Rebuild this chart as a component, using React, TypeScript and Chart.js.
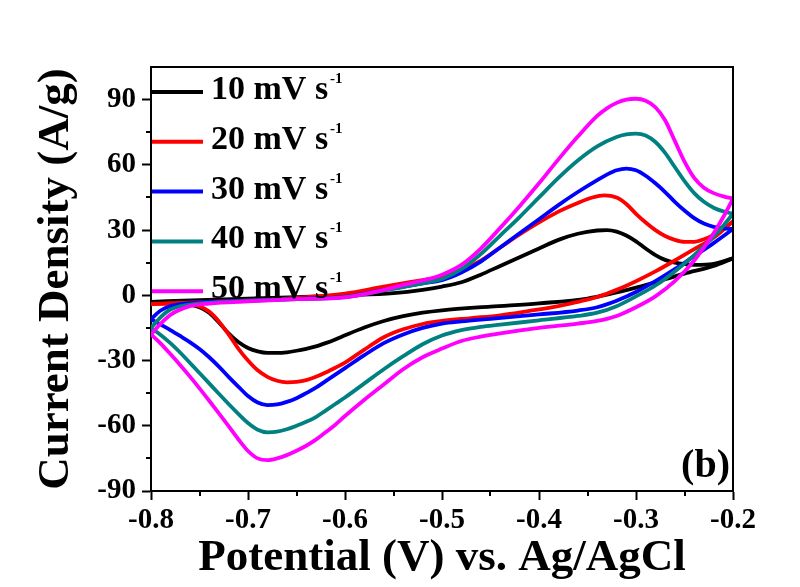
import React, { useEffect, useRef } from "react";
import { Chart, registerables } from "chart.js";

Chart.register(...registerables);

const FONT = "'Liberation Serif', 'Times New Roman', serif";

const scanRates = [10, 20, 30, 40, 50];
const seriesColors = ["#000000", "#FF0000", "#0000FF", "#008080", "#FF00FF"];
const xTicks = [-0.8, -0.7, -0.6, -0.5, -0.4, -0.3, -0.2];
const yTicks = [-90, -60, -30, 0, 30, 60, 90];
const xMinorTicks = [-0.75, -0.65, -0.55, -0.45, -0.35, -0.25];
const yMinorTicks = [-75, -45, -15, 15, 45, 75];

// [potential (V), current density (A/g)] — anodic (forward) sweep, -0.8 → -0.2
const anodic10: [number, number][] = [
  [-0.8, -3], [-0.75, -2.2], [-0.7, -1.5], [-0.65, -0.8], [-0.6, 0], [-0.55, 1], [-0.52, 2.5],
  [-0.5, 4], [-0.48, 6], [-0.46, 9.5], [-0.44, 13.5], [-0.42, 17.5], [-0.4, 21.5], [-0.38, 25.5],
  [-0.36, 28.3], [-0.34, 29.8], [-0.33, 30], [-0.32, 29.3], [-0.31, 27.5], [-0.3, 24.8], [-0.29, 21.5],
  [-0.28, 18.5], [-0.27, 16.3], [-0.26, 15], [-0.25, 14.3], [-0.24, 14], [-0.22, 14.5], [-0.2, 17],
];
// cathodic (reverse) sweep, listed from -0.8 up to the -0.2 vertex
const cathodic10: [number, number][] = [
  [-0.8, -3], [-0.78, -3.3], [-0.76, -4.3], [-0.75, -5.5], [-0.74, -8], [-0.73, -12.5], [-0.72, -17.5],
  [-0.71, -21.5], [-0.7, -24.2], [-0.69, -25.8], [-0.68, -26.5], [-0.67, -26.5], [-0.66, -26.2],
  [-0.65, -25.5], [-0.64, -24.6], [-0.63, -23.5], [-0.62, -22], [-0.61, -20.3], [-0.6, -18.4],
  [-0.58, -14.8], [-0.56, -11.8], [-0.54, -9.6], [-0.52, -8], [-0.5, -6.9], [-0.45, -5.2], [-0.4, -3.7],
  [-0.35, -1.5], [-0.3, 3.5], [-0.25, 10], [-0.22, 13.5], [-0.2, 17],
];

const anodic20: [number, number][] = [
  [-0.8, -4], [-0.75, -3.2], [-0.7, -2.3], [-0.65, -1.2], [-0.6, 0.8], [-0.56, 4], [-0.52, 7],
  [-0.5, 8.5], [-0.48, 11.5], [-0.46, 16], [-0.44, 22], [-0.42, 28], [-0.4, 33.5], [-0.38, 38.5],
  [-0.36, 42.5], [-0.345, 45], [-0.333, 46], [-0.32, 45], [-0.31, 42], [-0.3, 37.5], [-0.29, 33.5],
  [-0.28, 30], [-0.27, 27.3], [-0.26, 25.5], [-0.25, 24.6], [-0.24, 24.6], [-0.23, 25.8], [-0.22, 27.8],
  [-0.21, 30.5], [-0.2, 34],
];
const cathodic20: [number, number][] = [
  [-0.8, -4], [-0.78, -3.8], [-0.76, -4.2], [-0.75, -5], [-0.74, -7.5], [-0.73, -12], [-0.72, -18],
  [-0.71, -24.5], [-0.7, -30], [-0.69, -34.5], [-0.68, -37.5], [-0.67, -39.3], [-0.66, -40], [-0.65, -39.8],
  [-0.64, -39], [-0.63, -37.5], [-0.62, -35.5], [-0.61, -33.3], [-0.6, -31], [-0.59, -28], [-0.58, -25],
  [-0.57, -22], [-0.56, -19.3], [-0.55, -17.2], [-0.54, -15.6], [-0.52, -13.2], [-0.5, -11.8],
  [-0.47, -10.5], [-0.44, -9.2], [-0.41, -7.2], [-0.38, -5], [-0.36, -3], [-0.34, -0.8], [-0.32, 2.5],
  [-0.3, 6.5], [-0.28, 11], [-0.26, 16], [-0.24, 21.2], [-0.22, 26.5], [-0.2, 34],
];

const anodic30: [number, number][] = [
  [-0.8, -11], [-0.79, -7], [-0.78, -5], [-0.76, -3.6], [-0.7, -2.4], [-0.65, -1.6], [-0.6, -0.7],
  [-0.56, 2.5], [-0.52, 5.5], [-0.5, 7], [-0.48, 10.5], [-0.46, 15.5], [-0.44, 22], [-0.42, 28.5],
  [-0.4, 35], [-0.38, 41.5], [-0.36, 47.5], [-0.34, 53], [-0.33, 55.5], [-0.32, 57.5], [-0.31, 58.3],
  [-0.3, 57.5], [-0.29, 55], [-0.28, 51.5], [-0.27, 47.5], [-0.26, 43], [-0.25, 39], [-0.24, 35.5],
  [-0.23, 33], [-0.22, 31.5], [-0.21, 30.8], [-0.2, 30.5],
];
const cathodic30: [number, number][] = [
  [-0.8, -11], [-0.79, -13.5], [-0.78, -16], [-0.77, -18.7], [-0.76, -21.5], [-0.75, -24.7], [-0.74, -28.5],
  [-0.73, -32.8], [-0.72, -37.5], [-0.71, -42], [-0.7, -46.3], [-0.69, -49.3], [-0.68, -50.5], [-0.67, -50.2],
  [-0.66, -49], [-0.65, -47.3], [-0.64, -45], [-0.63, -42.5], [-0.62, -39.5], [-0.61, -36.5],
  [-0.6, -33.5], [-0.58, -27.5], [-0.56, -22], [-0.54, -18], [-0.52, -15], [-0.5, -13], [-0.48, -12],
  [-0.45, -10.8], [-0.4, -8.8], [-0.36, -7], [-0.34, -5.5], [-0.32, -2.5], [-0.3, 1.5], [-0.28, 6.5],
  [-0.26, 12], [-0.24, 18], [-0.22, 24], [-0.2, 30.5],
];

const anodic40: [number, number][] = [
  [-0.8, -15], [-0.79, -10], [-0.78, -6.5], [-0.76, -4.3], [-0.7, -2.6], [-0.65, -1.8], [-0.6, -0.8],
  [-0.56, 2.2], [-0.52, 5.5], [-0.5, 7.5], [-0.48, 12], [-0.46, 19], [-0.44, 27.5], [-0.42, 36],
  [-0.4, 45], [-0.38, 54], [-0.36, 62], [-0.34, 68.5], [-0.32, 72.8], [-0.31, 74], [-0.3, 74.4],
  [-0.29, 73.5], [-0.28, 70.5], [-0.27, 65.5], [-0.26, 59], [-0.25, 52.5], [-0.24, 47], [-0.23, 43],
  [-0.22, 40.3], [-0.21, 38.6], [-0.2, 37.5],
];
const cathodic40: [number, number][] = [
  [-0.8, -15], [-0.79, -18.2], [-0.78, -22], [-0.77, -26.3], [-0.76, -31], [-0.75, -35.7], [-0.74, -40.5],
  [-0.73, -45.3], [-0.72, -50], [-0.71, -54.5], [-0.7, -58.7], [-0.69, -61.8], [-0.68, -63], [-0.67, -62.7],
  [-0.66, -61.6], [-0.65, -60], [-0.64, -58.2], [-0.63, -56], [-0.62, -53], [-0.61, -50], [-0.6, -47],
  [-0.58, -40.5], [-0.56, -34], [-0.54, -28], [-0.52, -22.5], [-0.5, -18.5], [-0.48, -16], [-0.46, -14.5],
  [-0.44, -13.5], [-0.4, -11.5], [-0.36, -9.5], [-0.34, -8], [-0.32, -5], [-0.3, -0.5], [-0.28, 4.5],
  [-0.26, 11], [-0.24, 18.5], [-0.22, 27], [-0.21, 32], [-0.2, 37.5],
];

const anodic50: [number, number][] = [
  [-0.8, -18], [-0.79, -13], [-0.78, -9], [-0.76, -5], [-0.74, -3.8], [-0.7, -2.8], [-0.65, -1.8],
  [-0.6, -1], [-0.56, 2.5], [-0.54, 4.8], [-0.52, 6.8], [-0.5, 9.5], [-0.48, 14], [-0.46, 21.5],
  [-0.44, 31], [-0.42, 41], [-0.4, 51.5], [-0.38, 62.5], [-0.36, 73], [-0.34, 82.5], [-0.33, 86],
  [-0.32, 88.5], [-0.31, 90], [-0.3, 90.4], [-0.29, 89.5], [-0.28, 86.5], [-0.27, 80.5], [-0.26, 71],
  [-0.25, 61.5], [-0.24, 54], [-0.23, 49.5], [-0.22, 47], [-0.21, 45.5], [-0.2, 44.5],
];
const cathodic50: [number, number][] = [
  [-0.8, -18], [-0.79, -22.2], [-0.78, -27], [-0.77, -32], [-0.76, -37.3], [-0.75, -42.8], [-0.74, -48.5],
  [-0.73, -54.3], [-0.72, -60.2], [-0.71, -66.2], [-0.7, -71.6], [-0.69, -75], [-0.68, -75.8],
  [-0.67, -75], [-0.66, -73.5], [-0.65, -71.5], [-0.64, -69.2], [-0.63, -66.4], [-0.62, -63], [-0.61, -59.5],
  [-0.6, -55.5], [-0.58, -48], [-0.56, -41], [-0.54, -34], [-0.52, -28.5], [-0.5, -24.5], [-0.48, -21],
  [-0.46, -19], [-0.44, -17.5], [-0.4, -15], [-0.36, -13], [-0.34, -11.8], [-0.32, -9.5], [-0.3, -5.5],
  [-0.28, -0.5], [-0.26, 6.5], [-0.24, 16], [-0.22, 28.5], [-0.21, 36], [-0.2, 44.5],
];

const anodicSweeps = [anodic10, anodic20, anodic30, anodic40, anodic50];
const cathodicSweeps = [cathodic10, cathodic20, cathodic30, cathodic40, cathodic50];
const panelLabel = "(b)";

const decorPlugin = {
  id: "decor",
  afterDraw(chart: any) {
    const { ctx, chartArea } = chart;
    const xs = chart.scales.x;
    const ys = chart.scales.y;
    ctx.save();
    ctx.strokeStyle = "#000";
    ctx.lineWidth = 2;
    ctx.beginPath();
    ctx.moveTo(chartArea.left, chartArea.top);
    ctx.lineTo(chartArea.right, chartArea.top);
    ctx.lineTo(chartArea.right, chartArea.bottom);
    ctx.stroke();
    ctx.beginPath();
    xMinorTicks.forEach((v) => {
      const px = Math.round(xs.getPixelForValue(v));
      ctx.moveTo(px, chartArea.bottom);
      ctx.lineTo(px, chartArea.bottom + 5);
    });
    yMinorTicks.forEach((v) => {
      const py = Math.round(ys.getPixelForValue(v));
      ctx.moveTo(chartArea.left - 5, py);
      ctx.lineTo(chartArea.left, py);
    });
    ctx.stroke();

    scanRates.forEach((rate, i) => {
      const y = chartArea.top + 25 + i * 49.8;
      const x0 = chartArea.left + 1;
      ctx.strokeStyle = seriesColors[i];
      ctx.lineWidth = 4;
      ctx.beginPath();
      ctx.moveTo(x0, y);
      ctx.lineTo(x0 + 51, y);
      ctx.stroke();
      ctx.fillStyle = "#000";
      ctx.font = `bold 34px ${FONT}`;
      ctx.textBaseline = "alphabetic";
      ctx.textAlign = "left";
      const main = `${rate} mV s`;
      ctx.fillText(main, x0 + 59, y + 7);
      const w = ctx.measureText(main).width;
      ctx.font = `bold 15px ${FONT}`;
      ctx.fillText("-1", x0 + 59 + w + 2, y - 9);
    });

    ctx.fillStyle = "#000";
    ctx.font = `bold 40px ${FONT}`;
    ctx.textAlign = "right";
    ctx.textBaseline = "alphabetic";
    ctx.fillText(panelLabel, chartArea.right - 3, chartArea.bottom - 14);
    ctx.restore();
  },
};

export default function App() {
  const ref = useRef<HTMLCanvasElement | null>(null);
  useEffect(() => {
    if (!ref.current) return;
    const datasets: any[] = [];
    scanRates.forEach((rate, i) => {
      [anodicSweeps[i], cathodicSweeps[i]].forEach((branch, b) => {
        datasets.push({
          label: `${rate} mV s⁻¹ ${b === 0 ? "anodic" : "cathodic"}`,
          data: branch.map(([x, y]) => ({ x, y })),
          showLine: true,
          borderColor: seriesColors[i],
          backgroundColor: seriesColors[i],
          borderWidth: 3.8,
          pointRadius: 0,
          cubicInterpolationMode: "monotone",
          fill: false,
          order: scanRates.length - i,
        });
      });
    });
    const chart = new Chart(ref.current, {
      type: "scatter",
      data: { datasets },
      options: {
        responsive: false,
        animation: false,
        devicePixelRatio: 1,
        layout: { padding: { top: 67, right: 67, left: 0, bottom: 0 } },
        plugins: { legend: { display: false }, tooltip: { enabled: false } },
        scales: {
          x: {
            type: "linear",
            min: -0.8,
            max: -0.2,
            afterBuildTicks: (s: any) => {
              s.ticks = xTicks.map((v) => ({ value: v }));
            },
            afterFit: (s: any) => {
              s.height = 96;
            },
            grid: { drawOnChartArea: false, drawTicks: true, tickLength: 9, tickWidth: 2, tickColor: "#000" },
            border: { display: true, color: "#000", width: 2 },
            ticks: {
              color: "#000",
              font: { family: FONT, size: 29, weight: "bold" },
              padding: 3,
              maxRotation: 0,
              autoSkip: false,
              callback: (v: any) => Number(v).toFixed(1),
            },
            title: {
              display: true,
              text: "Potential (V) vs. Ag/AgCl",
              color: "#000",
              font: { family: FONT, size: 45, weight: "bold", lineHeight: 1.2 },
              padding: { top: 0, bottom: 2 },
            },
          },
          y: {
            type: "linear",
            min: -90,
            max: 105,
            afterBuildTicks: (s: any) => {
              s.ticks = yTicks.map((v) => ({ value: v }));
            },
            afterFit: (s: any) => {
              s.width = 151;
            },
            grid: { drawOnChartArea: false, drawTicks: true, tickLength: 9, tickWidth: 2, tickColor: "#000" },
            border: { display: true, color: "#000", width: 2 },
            ticks: {
              color: "#000",
              font: { family: FONT, size: 29, weight: "bold" },
              padding: 6,
              autoSkip: false,
              callback: (v: any) => String(v),
            },
            title: {
              display: true,
              text: "Current Density (A/g)",
              color: "#000",
              font: { family: FONT, size: 45, weight: "bold", lineHeight: 1.2 },
              padding: { top: 29, bottom: 0 },
            },
          },
        },
      },
      plugins: [decorPlugin],
    } as any);
    return () => chart.destroy();
  }, []);
  return (
    <div style={{ position: "absolute", left: 0, top: 0, width: 800, height: 587, background: "#fff" }}>
      <canvas ref={ref} width={800} height={587} style={{ display: "block" }} />
    </div>
  );
}
